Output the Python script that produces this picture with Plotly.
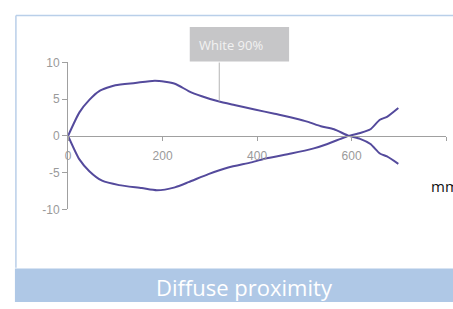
import plotly.graph_objects as go

W, H = 453, 309

upper_x = [0, 24, 45, 66, 100, 142, 184, 226, 255, 283, 318, 352, 395, 437, 479, 508, 535, 563, 594, 618, 640, 660, 675, 699]
upper_y = [0, 3.2, 4.9, 6.1, 6.9, 7.2, 7.5, 7.1, 6.1, 5.4, 4.7, 4.2, 3.6, 3.0, 2.4, 1.9, 1.3, 0.9, 0, -0.4, -1.1, -2.4, -2.8, -3.8]
lower_x = [0, 24, 45, 72, 108, 156, 188, 226, 255, 297, 339, 388, 423, 472, 520, 549, 577, 594, 618, 640, 660, 675, 699]
lower_y = [0, -3.2, -4.8, -6.1, -6.7, -7.1, -7.4, -7.0, -6.3, -5.2, -4.3, -3.6, -3.0, -2.4, -1.7, -1.1, -0.4, 0, 0.4, 0.9, 2.2, 2.6, 3.8]
x_ticks = [0, 200, 400, 600, 800]
y_ticks = [-10, -5, 0, 5, 10]
y_tick_labels = ["-10", "-5", "0", "5", "10"]
label_point = (320, 4.7)

line_color = "#544a9c"
axis_color = "#a0a0a0"
tick_font = dict(family="Liberation Sans, Arial", size=12, color="#9a9a9a")

def px_x(p):
    return p / W

def px_y(p):
    return 1 - p / H

fig = go.Figure()
for xs, ys in [(upper_x, upper_y), (lower_x, lower_y)]:
    fig.add_trace(go.Scatter(x=xs, y=ys, mode="lines", line=dict(color=line_color, width=2, shape="spline", smoothing=0.6),
                             hoverinfo="skip", showlegend=False))

fig.update_layout(
    width=W, height=H, margin=dict(l=0, r=0, t=0, b=0),
    paper_bgcolor="white", plot_bgcolor="rgba(0,0,0,0)",
    xaxis=dict(range=[0, 800], domain=[px_x(65.5), px_x(446)], anchor="free", position=px_y(135),
               showline=True, linecolor=axis_color, linewidth=1, ticks="outside", ticklen=4, tickcolor=axis_color,
               tickvals=x_ticks, showgrid=False, zeroline=False, tickfont=tick_font, fixedrange=True,
               ticklabelstandoff=5),
    yaxis=dict(range=[-10, 10], domain=[px_y(212), px_y(58)], showline=True, linecolor=axis_color, linewidth=1,
               ticks="outside", ticklen=5, tickcolor=axis_color, tickvals=y_ticks, ticktext=y_tick_labels,
               showgrid=False, zeroline=False, tickfont=tick_font, fixedrange=True),
    shapes=[
        dict(type="line", xref="paper", yref="paper", x0=px_x(13), x1=1, y0=px_y(9), y1=px_y(9),
             line=dict(color="#b9cfe9", width=1.5)),
        dict(type="line", xref="paper", yref="paper", x0=px_x(13), x1=px_x(13), y0=px_y(9), y1=px_y(273),
             line=dict(color="#b9cfe9", width=1.5)),
        dict(type="rect", xref="paper", yref="paper", x0=px_x(12), x1=1, y0=0, y1=px_y(274),
             fillcolor="#afc8e6", line=dict(width=0), layer="below"),
        dict(type="rect", xref="paper", yref="paper", x0=px_x(188), x1=px_x(288), y0=px_y(57), y1=px_y(21),
             fillcolor="#c6c6c8", line=dict(width=0)),
        dict(type="line", xref="x", yref="y", x0=label_point[0], x1=label_point[0], y0=label_point[1], y1=10,
             line=dict(color="#b4b4b4", width=1)),
    ],
    annotations=[
        dict(text="White 90%", xref="paper", yref="paper", x=px_x(195), y=px_y(40), xanchor="left", yanchor="middle",
             showarrow=False, font=dict(family="Open Sans", size=13, color="#f2f2f2")),
        dict(text="mm", xref="paper", yref="paper", x=px_x(429), y=px_y(188), xanchor="left", yanchor="middle",
             showarrow=False, font=dict(family="Open Sans", size=15, color="#111111")),
        dict(text="Diffuse proximity", xref="paper", yref="paper", x=px_x(243), y=px_y(293), xanchor="center",
             yanchor="middle", showarrow=False, font=dict(family="Open Sans", size=22, color="white")),
    ],
)

fig.write_html(
    "out.html",
    config={"displayModeBar": False, "staticPlot": True},
    post_script="document.documentElement.style.margin='0';document.body.style.margin='0';"
                "document.body.style.padding='0';document.body.style.overflow='hidden';",
)
